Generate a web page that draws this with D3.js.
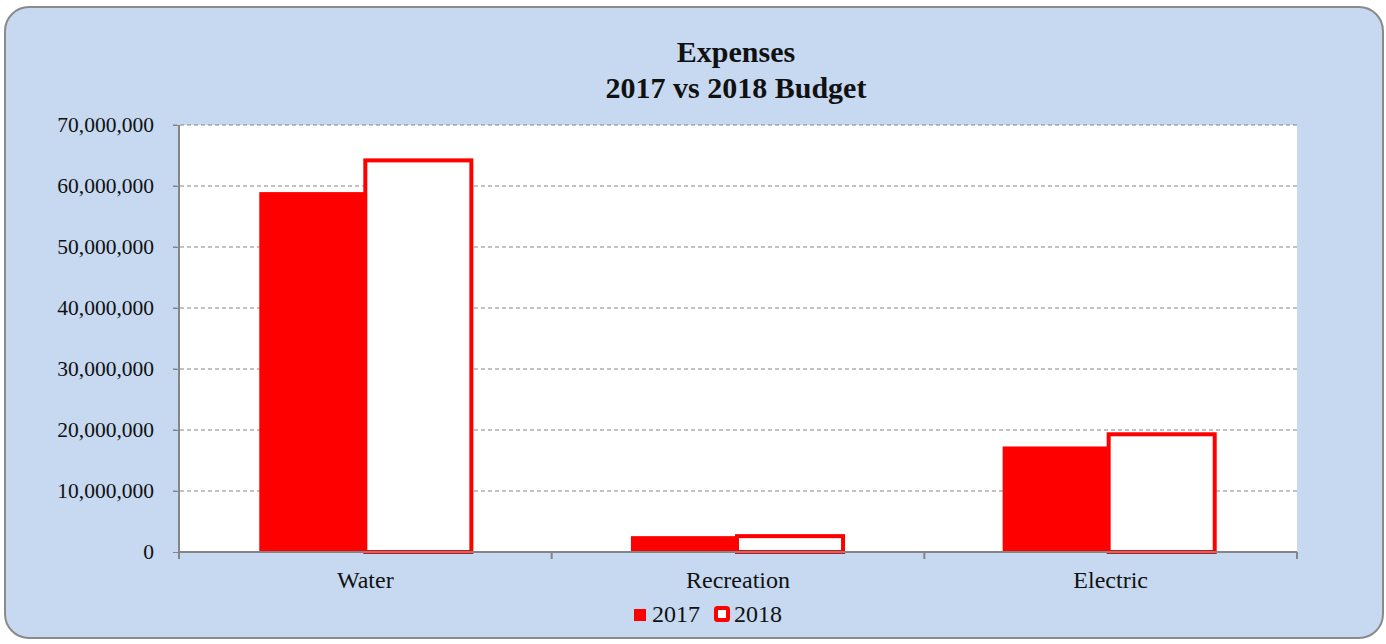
<!DOCTYPE html>
<html><head><meta charset="utf-8">
<script src="https://cdn.jsdelivr.net/npm/d3@7"></script>
<style>html,body{margin:0;padding:0;background:#fff;}svg{display:block;}</style>
</head><body>
<svg id="c" width="1386" height="644"></svg>
<script>
const categories = ["Water", "Recreation", "Electric"];
const seriesNames = ["2017", "2018"];
const values2017 = [59000000, 2600000, 17300000];
const values2018 = [64200000, 2600000, 19300000];
const yTicks = [0, 10000000, 20000000, 30000000, 40000000, 50000000, 60000000, 70000000];
const titleLines = ["Expenses", "2017 vs 2018 Budget"];

const svg = d3.select("#c");
const font = "'Liberation Serif', 'DejaVu Serif', serif";
const red = "#FF0000";
const gray = "#858585";

svg.append("rect").attr("x", 5).attr("y", 7).attr("width", 1378).attr("height", 631)
  .attr("rx", 24).attr("ry", 24).attr("fill", "#C6D9F0").attr("stroke", "#8a8a8a").attr("stroke-width", 2);

const L = 179, R = 1297, T = 125, B = 552;
const x = d3.scaleBand().domain(categories).range([L, R]).paddingInner(0.424).paddingOuter(0.216);
const y = d3.scaleLinear().domain([0, 70000000]).range([B, T]);
const x1 = d3.scaleBand().domain(seriesNames).range([0, x.bandwidth()]);
const band = d3.scaleBand().domain(categories).range([L, R]);

svg.append("rect").attr("x", L).attr("y", T).attr("width", R - L).attr("height", B - T).attr("fill", "#fff");

// gridlines
svg.append("g").selectAll("line").data(yTicks.filter(d => d > 0)).join("line")
  .attr("x1", L - 6).attr("x2", R).attr("y1", d => y(d)).attr("y2", d => y(d))
  .attr("stroke", gray).attr("stroke-width", 1).attr("stroke-dasharray", "4,3");

// y axis
const yAxis = d3.axisLeft(y).tickValues(yTicks).tickSize(6).tickPadding(19).tickFormat(d3.format(","));
const gy = svg.append("g").attr("transform", `translate(${L},0)`).call(yAxis);
gy.select(".domain").attr("stroke", gray).attr("stroke-width", 2).attr("d", `M0,${T}V${B}`);
gy.selectAll(".tick line").attr("stroke", gray).attr("stroke-width", 1);
gy.selectAll("text").attr("font-family", font).attr("font-size", 21.5).attr("fill", "#111");

// bars
const g = svg.append("g");
categories.forEach((c, i) => {
  const bx = x(c);
  const w = x1.bandwidth();
  const y17 = y(values2017[i]);
  g.append("rect").attr("x", bx + x1("2017")).attr("y", y17).attr("width", w).attr("height", B - y17).attr("fill", red);
  const y18 = y(values2018[i]);
  const sw = 4;
  g.append("rect").attr("x", bx + x1("2018") - 1).attr("y", y18).attr("width", w - 1).attr("height", B - y18)
    .attr("fill", "#fff").attr("stroke", red).attr("stroke-width", sw);
});

// x axis
const xAxis = d3.axisBottom(band).tickSize(0).tickPadding(19);
const gx = svg.append("g").attr("transform", `translate(0,${B})`).call(xAxis);
gx.select(".domain").attr("stroke", gray).attr("stroke-width", 2).attr("d", `M${L},0H${R}`);
gx.selectAll("text").attr("font-family", font).attr("font-size", 24).attr("fill", "#111");
const bounds = [L].concat(categories.map(c => band(c) + band.bandwidth()));
svg.append("g").selectAll("line").data(bounds).join("line")
  .attr("x1", d => d).attr("x2", d => d).attr("y1", B).attr("y2", B + 7)
  .attr("stroke", gray).attr("stroke-width", 2);

// title
const t = svg.append("text").attr("x", 736).attr("text-anchor", "middle")
  .attr("font-family", font).attr("font-size", 30).attr("font-weight", "bold").attr("fill", "#111");
titleLines.forEach((s, i) => t.append("tspan").attr("x", 736).attr("y", 62 + i * 36).text(s));

// legend
const leg = svg.append("g").attr("font-family", font).attr("font-size", 24).attr("fill", "#111");
leg.append("rect").attr("x", 634).attr("y", 609).attr("width", 12).attr("height", 12).attr("fill", red);
leg.append("text").attr("x", 652).attr("y", 622).text(seriesNames[0]);
leg.append("rect").attr("x", 716).attr("y", 608).attr("width", 12).attr("height", 12).attr("fill", "#fff")
  .attr("stroke", red).attr("stroke-width", 4).attr("rx", 1.5);
leg.append("text").attr("x", 734).attr("y", 622).text(seriesNames[1]);
</script>
</body></html>
